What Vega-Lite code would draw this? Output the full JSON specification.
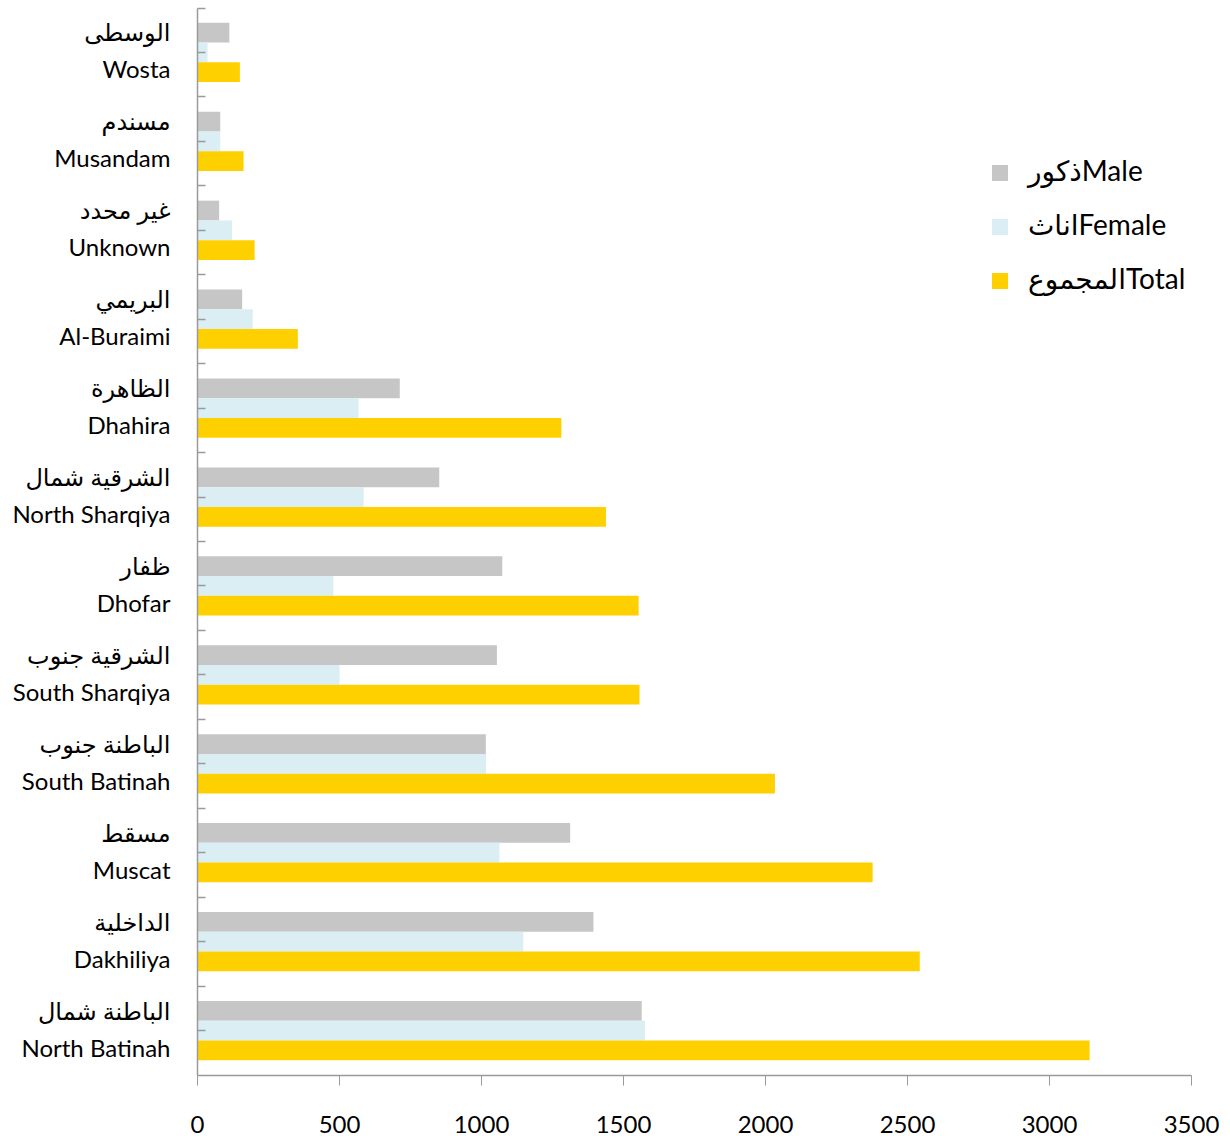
{
  "$schema": "https://vega.github.io/schema/vega-lite/v6.json",
  "width": 994,
  "height": 1067,
  "autosize": {"type": "none"},
  "padding": {"left": 197, "top": 8, "right": 39, "bottom": 67},
  "background": "white",
  "config": {"view": {"stroke": null}},
  "layer": [
    {
      "data": {
        "values": [
          {"cat": "الوسطى|Wosta", "series": "ذكورMale", "value": 114},
          {"cat": "الوسطى|Wosta", "series": "اناثFemale", "value": 37},
          {"cat": "الوسطى|Wosta", "series": "المجموعTotal", "value": 151},
          {"cat": "مسندم|Musandam", "series": "ذكورMale", "value": 82},
          {"cat": "مسندم|Musandam", "series": "اناثFemale", "value": 82},
          {"cat": "مسندم|Musandam", "series": "المجموعTotal", "value": 164},
          {"cat": "غير محدد|Unknown", "series": "ذكورMale", "value": 78},
          {"cat": "غير محدد|Unknown", "series": "اناثFemale", "value": 124},
          {"cat": "غير محدد|Unknown", "series": "المجموعTotal", "value": 203},
          {"cat": "البريمي|Al-Buraimi", "series": "ذكورMale", "value": 159},
          {"cat": "البريمي|Al-Buraimi", "series": "اناثFemale", "value": 196},
          {"cat": "البريمي|Al-Buraimi", "series": "المجموعTotal", "value": 355},
          {"cat": "الظاهرة|Dhahira", "series": "ذكورMale", "value": 714},
          {"cat": "الظاهرة|Dhahira", "series": "اناثFemale", "value": 569},
          {"cat": "الظاهرة|Dhahira", "series": "المجموعTotal", "value": 1283},
          {"cat": "الشرقية شمال|North Sharqiya", "series": "ذكورMale", "value": 853},
          {"cat": "الشرقية شمال|North Sharqiya", "series": "اناثFemale", "value": 587},
          {"cat": "الشرقية شمال|North Sharqiya", "series": "المجموعTotal", "value": 1440},
          {"cat": "ظفار|Dhofar", "series": "ذكورMale", "value": 1075},
          {"cat": "ظفار|Dhofar", "series": "اناثFemale", "value": 480},
          {"cat": "ظفار|Dhofar", "series": "المجموعTotal", "value": 1555},
          {"cat": "الشرقية جنوب|South Sharqiya", "series": "ذكورMale", "value": 1056},
          {"cat": "الشرقية جنوب|South Sharqiya", "series": "اناثFemale", "value": 502},
          {"cat": "الشرقية جنوب|South Sharqiya", "series": "المجموعTotal", "value": 1558},
          {"cat": "الباطنة جنوب|South Batinah", "series": "ذكورMale", "value": 1017},
          {"cat": "الباطنة جنوب|South Batinah", "series": "اناثFemale", "value": 1018},
          {"cat": "الباطنة جنوب|South Batinah", "series": "المجموعTotal", "value": 2035},
          {"cat": "مسقط|Muscat", "series": "ذكورMale", "value": 1314},
          {"cat": "مسقط|Muscat", "series": "اناثFemale", "value": 1065},
          {"cat": "مسقط|Muscat", "series": "المجموعTotal", "value": 2379},
          {"cat": "الداخلية|Dakhiliya", "series": "ذكورMale", "value": 1396},
          {"cat": "الداخلية|Dakhiliya", "series": "اناثFemale", "value": 1149},
          {"cat": "الداخلية|Dakhiliya", "series": "المجموعTotal", "value": 2545},
          {"cat": "الباطنة شمال|North Batinah", "series": "ذكورMale", "value": 1566},
          {"cat": "الباطنة شمال|North Batinah", "series": "اناثFemale", "value": 1577},
          {"cat": "الباطنة شمال|North Batinah", "series": "المجموعTotal", "value": 3143}
        ]
      },
      "mark": {"type": "bar"},
      "encoding": {
        "y": {
          "field": "cat", "type": "nominal",
          "sort": ["الوسطى|Wosta", "مسندم|Musandam", "غير محدد|Unknown", "البريمي|Al-Buraimi", "الظاهرة|Dhahira", "الشرقية شمال|North Sharqiya", "ظفار|Dhofar", "الشرقية جنوب|South Sharqiya", "الباطنة جنوب|South Batinah", "مسقط|Muscat", "الداخلية|Dakhiliya", "الباطنة شمال|North Batinah"],
          "scale": {"paddingInner": 0, "paddingOuter": 0},
          "axis": {
            "orient": "left", "title": null, "ticks": false, "domain": true,
            "domainColor": "#9a9a9a", "domainWidth": 1.5, "zindex": 1,
            "labelExpr": "split(datum.value, '|')",
            "labelFont": "Lato, DejaVu Sans", "labelFontSize": 24, "labelLineHeight": 37,
            "labelPadding": 27, "labelOffset": -18, "labelColor": "#000000", "labelLimit": 400,
            "labelAlign": "right", "labelBaseline": "middle"
          }
        },
        "x": {
          "field": "value", "type": "quantitative",
          "scale": {"domain": [0, 3500], "nice": false},
          "axis": {
            "orient": "bottom", "title": null, "grid": false, "format": "d",
            "values": [0, 500, 1000, 1500, 2000, 2500, 3000, 3500],
            "domainColor": "#9a9a9a", "domainWidth": 1.5, "tickColor": "#9a9a9a", "tickSize": 10,
            "labelPadding": 28, "labelFont": "Lato", "labelFontSize": 24, "labelColor": "#000000",
            "labelFlush": false
          }
        },
        "yOffset": {
          "field": "series", "type": "nominal",
          "sort": ["ذكورMale", "اناثFemale", "المجموعTotal"],
          "scale": {"paddingInner": 0, "paddingOuter": 0.75}
        },
        "color": {
          "field": "series", "type": "nominal",
          "scale": {"domain": ["ذكورMale", "اناثFemale", "المجموعTotal"], "range": ["#C6C6C6", "#DAEEF4", "#FFD000"]},
          "legend": {
            "title": null, "orient": "none", "legendX": 789, "legendY": 151,
            "symbolType": "square", "symbolSize": 256, "symbolStrokeWidth": 0,
            "labelFont": "Lato, DejaVu Sans", "labelFontSize": 28, "labelColor": "#000000",
            "labelOffset": 14, "labelLimit": 400, "rowPadding": 26
          }
        }
      }
    },
    {
      "data": {"values": [{"cat": "الوسطى|Wosta"}]},
      "mark": {"type": "tick", "opacity": 0},
      "encoding": {
        "y": {
          "field": "cat", "type": "nominal",
          "sort": ["الوسطى|Wosta", "مسندم|Musandam", "غير محدد|Unknown", "البريمي|Al-Buraimi", "الظاهرة|Dhahira", "الشرقية شمال|North Sharqiya", "ظفار|Dhofar", "الشرقية جنوب|South Sharqiya", "الباطنة جنوب|South Batinah", "مسقط|Muscat", "الداخلية|Dakhiliya", "الباطنة شمال|North Batinah"],
          "axis": {
            "orient": "left", "title": null, "labels": false, "domain": false, "zindex": 1,
            "ticks": true, "tickSize": -8, "tickColor": "#9a9a9a", "tickWidth": 1.5, "bandPosition": 0
          }
        }
      }
    },
    {
      "data": {"values": [{"cat": "الوسطى|Wosta"}]},
      "mark": {"type": "tick", "opacity": 0},
      "encoding": {
        "y": {
          "field": "cat", "type": "nominal",
          "sort": ["الوسطى|Wosta", "مسندم|Musandam", "غير محدد|Unknown", "البريمي|Al-Buraimi", "الظاهرة|Dhahira", "الشرقية شمال|North Sharqiya", "ظفار|Dhofar", "الشرقية جنوب|South Sharqiya", "الباطنة جنوب|South Batinah", "مسقط|Muscat", "الداخلية|Dakhiliya", "الباطنة شمال|North Batinah"],
          "axis": {
            "orient": "left", "title": null, "labels": false, "domain": false, "zindex": 1,
            "ticks": true, "tickSize": -8, "tickColor": "#9a9a9a", "tickWidth": 1.5, "bandPosition": 0.5
          }
        }
      }
    }
  ],
  "resolve": {"axis": {"y": "independent"}}
}
